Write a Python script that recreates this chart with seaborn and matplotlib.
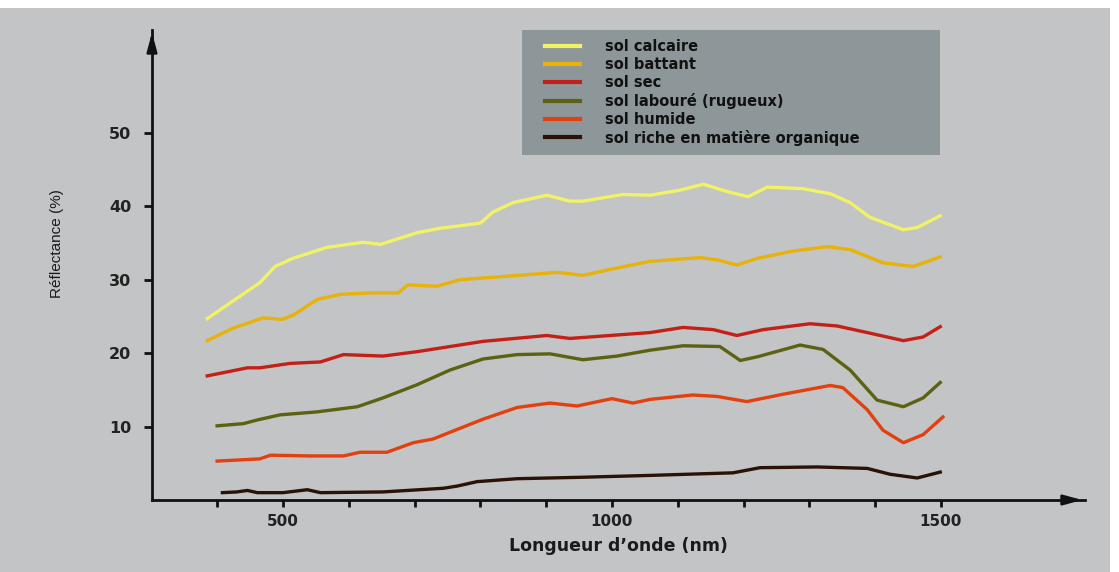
import matplotlib
matplotlib.use("Agg")
import matplotlib.pyplot as plt
from matplotlib.patches import Rectangle
import seaborn as sns
import pandas as pd

# Courbes de réflectance (longueur d'onde en nm, réflectance en %)
series = [
    "sol calcaire",
    "sol battant",
    "sol sec",
    "sol labouré (rugueux)",
    "sol humide",
    "sol riche en matière organique",
]
colors = ["#f2f266", "#e8b208", "#c42018", "#5c6212", "#e2400e", "#2a1306"]

calcaire_x = [385, 465, 488, 515, 567, 622, 648, 704, 739, 800, 819, 850, 901, 936, 956, 1017, 1058,
              1104, 1139, 1175, 1207, 1236, 1290, 1332, 1362, 1392, 1443, 1464, 1499]
calcaire_y = [24.7, 29.6, 31.8, 32.9, 34.4, 35.1, 34.8, 36.4, 37.0, 37.7, 39.2, 40.5, 41.5, 40.7, 40.7,
              41.6, 41.5, 42.2, 43.0, 42.0, 41.3, 42.6, 42.4, 41.7, 40.5, 38.5, 36.8, 37.1, 38.7]

battant_x = [385, 424, 470, 499, 516, 552, 587, 633, 675, 690, 734, 769, 830, 917, 956, 1008, 1058,
             1134, 1160, 1190, 1221, 1275, 1327, 1362, 1412, 1458, 1499]
battant_y = [21.7, 23.4, 24.8, 24.6, 25.2, 27.3, 28.0, 28.2, 28.2, 29.3, 29.1, 30.0, 30.4, 31.0, 30.6,
             31.6, 32.5, 33.0, 32.7, 32.0, 32.9, 33.9, 34.5, 34.1, 32.3, 31.8, 33.1]

sec_x = [385, 446, 465, 511, 557, 592, 652, 704, 804, 901, 936, 1058, 1108, 1154, 1190, 1230, 1301,
         1342, 1388, 1443, 1473, 1499]
sec_y = [16.9, 18.0, 18.0, 18.6, 18.8, 19.8, 19.6, 20.2, 21.6, 22.4, 22.0, 22.8, 23.5, 23.2, 22.4,
         23.2, 24.0, 23.7, 22.8, 21.7, 22.2, 23.6]

laboure_x = [400, 440, 461, 496, 552, 613, 652, 704, 754, 804, 856, 906, 956, 1008, 1058, 1108, 1164,
             1195, 1221, 1286, 1321, 1362, 1403, 1443, 1473, 1499]
laboure_y = [10.1, 10.4, 10.9, 11.6, 12.0, 12.7, 13.9, 15.7, 17.7, 19.2, 19.8, 19.9, 19.1, 19.6, 20.4,
             21.0, 20.9, 19.0, 19.5, 21.1, 20.5, 17.7, 13.6, 12.7, 13.9, 16.0]

humide_x = [400, 465, 481, 541, 592, 617, 658, 698, 728, 804, 856, 906, 947, 1000, 1032, 1058, 1123,
            1160, 1205, 1260, 1332, 1351, 1388, 1412, 1443, 1473, 1503]
humide_y = [5.3, 5.6, 6.1, 6.0, 6.0, 6.5, 6.5, 7.8, 8.3, 11.0, 12.6, 13.2, 12.8, 13.8, 13.2, 13.7,
            14.3, 14.1, 13.4, 14.4, 15.6, 15.3, 12.3, 9.5, 7.8, 8.9, 11.3]

organique_x = [408, 430, 446, 461, 500, 537, 557, 652, 744, 765, 795, 856, 956, 1058, 1184, 1225,
               1312, 1388, 1423, 1464, 1499]
organique_y = [1.0, 1.1, 1.3, 1.0, 1.0, 1.4, 1.0, 1.1, 1.6, 1.9, 2.5, 2.9, 3.1, 3.35, 3.7, 4.4,
               4.5, 4.3, 3.5, 3.0, 3.8]

y_ticks = [10, 20, 30, 40, 50]
x_ticks = [500, 1000, 1500]
x_minor = [400, 500, 600, 700, 800, 900, 1000, 1100, 1200, 1300, 1400, 1500]

xs = [calcaire_x, battant_x, sec_x, laboure_x, humide_x, organique_x]
ys = [calcaire_y, battant_y, sec_y, laboure_y, humide_y, organique_y]
frames = []
for name, x, y in zip(series, xs, ys):
    frames.append(pd.DataFrame({"wl": x, "refl": y, "sol": name}))
df = pd.concat(frames, ignore_index=True)

W, H = 1119, 572
bg = "#c2c4c5"
fig = plt.figure(figsize=(W / 100, H / 100), dpi=100, facecolor="white")
fig.patches.append(Rectangle((0, 0), 1110 / W, 564 / H, transform=fig.transFigure,
                             facecolor=bg, edgecolor="none", zorder=-10))
# fond du cartouche de légende
fig.patches.append(Rectangle((522 / W, 1 - 155 / H), 418 / W, 125 / H, transform=fig.transFigure,
                             facecolor="#8d9699", edgecolor="none", zorder=-5))

ax = fig.add_axes([152 / W, 72 / H, (1085 - 152) / W, (542 - 72) / H])
ax.set_facecolor("none")

sns.lineplot(data=df, x="wl", y="refl", hue="sol", hue_order=series,
             palette=dict(zip(series, colors)), estimator=None, sort=False,
             linewidth=2.4, ax=ax)

ax.set_xlim(301, 1719)
ax.set_ylim(0, 64)

for side in ["top", "right"]:
    ax.spines[side].set_visible(False)
for side in ["left", "bottom"]:
    ax.spines[side].set_linewidth(2)
    ax.spines[side].set_color("#111111")

# flèches au bout des axes
ax.annotate("", xy=(1.0, 0), xytext=(0.98, 0), xycoords="axes fraction",
            arrowprops=dict(arrowstyle="-|>,head_length=1.1,head_width=0.3", color="#111111", lw=2),
            annotation_clip=False)
ax.annotate("", xy=(0, 1.0), xytext=(0, 0.97), xycoords="axes fraction",
            arrowprops=dict(arrowstyle="-|>,head_length=1.1,head_width=0.3", color="#111111", lw=2),
            annotation_clip=False)

ax.set_yticks(y_ticks)
ax.set_xticks(x_ticks)
ax.set_xticks(x_minor, minor=True)
ax.tick_params(axis="both", which="both", direction="out", color="#111111", width=2)
ax.tick_params(axis="y", length=6, pad=9)
ax.tick_params(axis="x", which="both", length=5, pad=5)
for lab in ax.get_xticklabels():
    lab.set_fontfamily("DejaVu Sans")
    lab.set_fontweight("bold")
    lab.set_fontsize(11)
    lab.set_color("#222222")
for lab in ax.get_yticklabels():
    lab.set_fontfamily("DejaVu Sans")
    lab.set_fontweight("bold")
    lab.set_fontsize(11.5)
    lab.set_color("#222222")

ax.set_xlabel("Longueur d\u2019onde (nm)", fontsize=12.5, fontweight="bold",
              family="DejaVu Sans", color="#1a1a1a", labelpad=6)
ax.set_ylabel("")
fig.text(57 / W, 1 - 244 / H, "Réflectance (%)", rotation=90, ha="center", va="center",
         fontsize=11, family="Liberation Sans", color="#1a1a1a")

leg = ax.legend(loc="upper left", bbox_to_anchor=(545 / W, 1 - 39 / H),
                bbox_transform=fig.transFigure, frameon=False,
                prop={"family": "DejaVu Sans", "weight": "bold", "size": 10.5},
                handlelength=2.4, handletextpad=1.7, labelspacing=0.2, borderpad=0,
                borderaxespad=0, title=None)
for line in leg.get_lines():
    line.set_linewidth(3)
for t in leg.get_texts():
    t.set_color("#111111")

fig.savefig("out.png", dpi=100, facecolor=fig.get_facecolor())
